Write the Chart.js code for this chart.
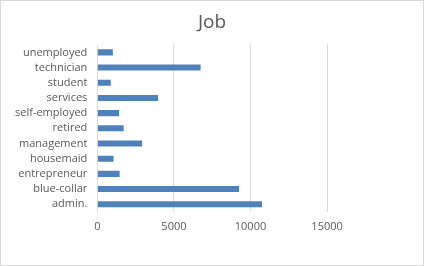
<!DOCTYPE html>
<html>
<head>
<meta charset="utf-8">
<script src="https://cdn.jsdelivr.net/npm/chart.js@4"></script>
<style>
  html, body { margin: 0; padding: 0; background: #fff; }
  #wrap { width: 424px; height: 266px; box-sizing: border-box; border: 1px solid #d9d9d9; position: relative; }
</style>
</head>
<body>
<div id="wrap"><canvas id="job-chart"></canvas></div>
<script>
// categories top to bottom, as shown
var jobs = ["unemployed", "technician", "student", "services", "self-employed", "retired",
            "management", "housemaid", "entrepreneur", "blue-collar", "admin."];
var counts = [1014, 6743, 875, 3969, 1421, 1720, 2924, 1060, 1456, 9254, 10752];
var xTicks = [0, 5000, 10000, 15000];
var xMax = 21000; // empty room right of the last gridline

var canvas = document.getElementById("job-chart");

var chart = new Chart(canvas, {
    type: "bar",
    data: {
        labels: jobs,
        datasets: [
            {
                label: "Job",
                backgroundColor: "#4f81bd",
                data: counts,
                barPercentage: 0.4,
                categoryPercentage: 1.0
            }
        ]
    },
    options: {
        indexAxis: "y",
        responsive: true,
        maintainAspectRatio: false,
        animation: false,
        layout: { padding: { left: 4, right: 4, top: 0, bottom: 24 } },
        plugins: {
            legend: { display: false },
            tooltip: { enabled: false },
            title: {
                display: true,
                text: "Job",
                color: "#595959",
                font: { family: "Open Sans", size: 19, weight: "normal" },
                padding: { top: 10, bottom: 11 }
            }
        },
        scales: {
            x: {
                min: 0,
                max: xMax,
                afterBuildTicks: function (axis) {
                    axis.ticks = xTicks.map(function (v) { return { value: v }; });
                },
                grid: { color: "#d9d9d9", lineWidth: 1, drawTicks: false },
                border: { display: false },
                ticks: {
                    color: "#595959",
                    padding: 8,
                    maxRotation: 0,
                    font: { family: "Open Sans", size: 11 },
                    callback: function (v) { return String(v); }
                }
            },
            y: {
                grid: { display: false, drawTicks: false },
                border: { display: false },
                ticks: {
                    color: "#595959",
                    padding: 10,
                    autoSkip: false,
                    font: { family: "Open Sans", size: 11 }
                }
            }
        }
    }
});
</script>
</body>
</html>
